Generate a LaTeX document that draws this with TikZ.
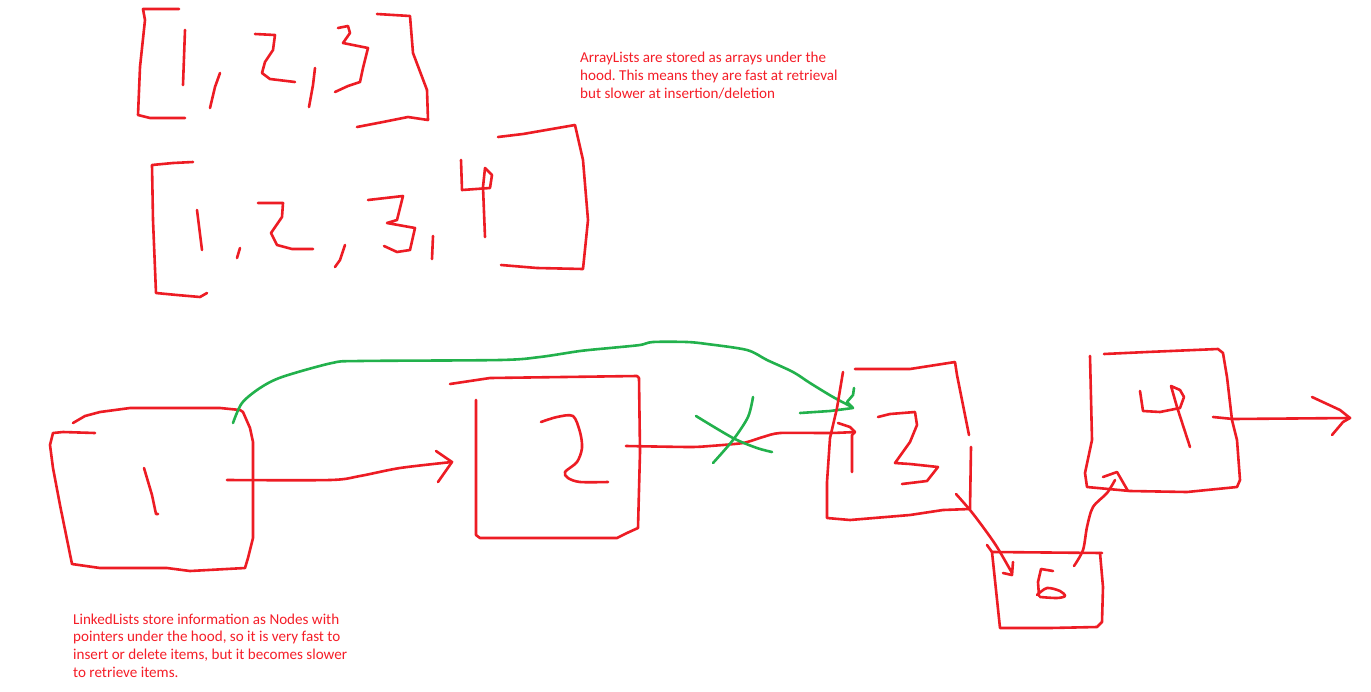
\documentclass[tikz,border=0pt]{standalone}
\usepackage{fontspec}
\setmainfont{Carlito}
\frenchspacing
\definecolor{penred}{RGB}{237,28,36}
\definecolor{pengreen}{RGB}{34,177,76}
\definecolor{txtred}{RGB}{245,30,40}
\begin{document}
\begin{tikzpicture}[x=1pt,y=-1pt,
  pen/.style={draw=penred,line width=2.6pt,line cap=round,line join=round},
  gpen/.style={draw=pengreen,line width=2.6pt,line cap=round,line join=round},
  note/.style={text=txtred,font=\fontsize{15.1}{17.6}\selectfont,align=left,anchor=base west,inner sep=0pt}]
\useasboundingbox[fill=white] (0,0) rectangle (1371,691);

% ---- array [1,2,3]
\draw[pen] (179,9) -- (143,9) -- (145,20) -- (140,67) -- (138,115) -- (150,118) -- (185,118);
\draw[pen] (185,30) -- (183,85);
\draw[pen] (220,73) -- (215,87) -- (210,108);
\draw[pen] (255,34) -- (275,35) -- (273,50) -- (265,62) -- (262,73) -- (270,79) -- (295,82);
\draw[pen] (315,68) -- (313,85) -- (309,107);
\draw[pen] (338,28) -- (348,26) -- (350,33) -- (343,43) -- (368,48) -- (363,68) -- (360,82) -- (348,86) -- (335,92);
\draw[pen] (377,14) -- (410,16) -- (413,53) -- (427,90) -- (428,120) -- (408,117) -- (383,122) -- (357,127);

% ---- array [1,2,3,4]
\draw[pen] (193,162) -- (173,163) -- (152,165) -- (153,220) -- (156,293) -- (177,295) -- (200,297) -- (207,293);
\draw[pen] (197,210) -- (202,250);
\draw[pen] (240,248) -- (237,258);
\draw[pen] (258,203) -- (283,203) -- (282,217) -- (271,233) -- (277,245) -- (292,249) -- (313,249);
\draw[pen] (345,245) -- (340,260) -- (335,267);
\draw[pen] (368,200) -- (403,196) -- (397,220) -- (387,223) -- (415,228) -- (410,250) -- (397,252) -- (384,246);
\draw[pen] (433,236) -- (432,259);
\draw[pen] (461,160) -- (462,190) -- (490,188) -- (492,175) -- (485,168) -- (483,187) -- (485,237);
\draw[pen] (498,137) -- (523,134) -- (575,125) -- (583,160) -- (588,220) -- (583,269) -- (537,268) -- (501,265);

\node[note] (arraytext) at (580,98) {ArrayLists are stored as arrays under the\\hood. This means they are fast at retrieval\\but slower at insertion/deletion};

% ---- box 1
\draw[pen] (73,423) -- (85,416) -- (100,412) -- (130,408) -- (220,408) -- (240,410) -- (243,412)
  -- (250,428) -- (253,442) -- (253,495) -- (253,538) -- (248,558) -- (245,568)
  -- (190,571) -- (167,568) -- (100,568) -- (72,564)
  -- (60,505) -- (53,468) -- (50,445) -- (53,433) -- (63,432) -- (95,433);
\draw[pen] (144,468) -- (152,495) -- (156,514) -- (158,514);

% arrow 1 -> 2
\draw[pen] plot[smooth,tension=0.5] coordinates {(227,480) (330,480) (360,476) (400,468) (452,462)};
\draw[pen] (436,451) -- (452,462) -- (438,482);

% ---- box 2
\draw[pen] (450,384) -- (490,378) -- (637,376) -- (639,378) -- (640,452) -- (638,528) -- (627,533) -- (617,538)
  -- (557,538) -- (520,538) -- (480,538) -- (476,535) -- (476,400);
\draw[pen] plot[smooth,tension=0.5] coordinates {(541,422) (557,417) (573,416) (580,432) (582,448) (577,462) (565,472) (568,478) (580,482) (608,482)};

% arrow 2 -> 3
\draw[pen] plot[smooth,tension=0.4] coordinates {(626,446) (690,447) (710,446) (743,443) (763,437) (780,433) (830,433) (855,432)};
\draw[pen] (838,423) -- (850,427) -- (855,432) -- (852,435) -- (852,472);

% green cross
\draw[gpen] plot[smooth,tension=0.5] coordinates {(696,416) (733,438) (757,448) (772,452)};
\draw[gpen] plot[smooth,tension=0.5] coordinates {(753,397) (748,417) (733,440) (713,463)};

% green curve 1 -> 3
\draw[gpen] plot[smooth,tension=0.5] coordinates {(233,423) (242,403) (260,388) (282,377) (332,363) (360,361) (500,360) (540,357) (580,351) (610,348) (640,345) (653,342) (687,342) (707,344) (747,350) (767,360) (793,372) (810,383) (833,397) (852,407)};
\draw[gpen] (800,413) -- (830,411) -- (853,408) -- (847,402) -- (853,395) -- (854,388);

% ---- box 3
\draw[pen] (843,372) -- (837,408) -- (830,438) -- (827,482) -- (827,518) -- (850,520) -- (910,515) -- (943,510) -- (970,509) -- (971,447);
\draw[pen] (969,435) -- (957,375) -- (955,362) -- (910,369) -- (855,369);
\draw[pen] (878,417) -- (890,414) -- (915,412) -- (917,425) -- (910,442) -- (895,463) -- (910,464) -- (938,467) -- (927,481) -- (902,484);

% arrow 3 -> 5
\draw[pen] plot[smooth,tension=0.5] coordinates {(956,494) (970,510) (983,527) (997,547) (1012,573)};
\draw[pen] (1003,573) -- (1012,575) -- (1013,562);

% ---- box 5
\draw[pen] (987,545) -- (992,552) -- (1102,553);
\draw[pen] (992,552) -- (1000,628) -- (1050,628) -- (1097,627) -- (1102,622) -- (1103,587) -- (1100,553);
\draw[pen] (1053,571) -- (1041,569) -- (1038,582) -- (1039,596);
\draw[pen] plot[smooth,tension=0.5] coordinates {(1037,595) (1047,588) (1060,591) (1065,596) (1057,598) (1040,597)};

% arrow 5 -> 4
\draw[pen] plot[smooth,tension=0.5] coordinates {(1074,566) (1083,550) (1087,527) (1093,507) (1107,493) (1115,480)};
\draw[pen] (1103,477) -- (1117,472) -- (1128,491);

% ---- box 4
\draw[pen] (1090,356) -- (1092,440) -- (1085,473) -- (1087,487) -- (1130,491) -- (1187,492) -- (1237,487) -- (1240,480)
  -- (1237,440) -- (1232,420) -- (1227,377) -- (1223,353) -- (1218,349) -- (1147,352) -- (1104,354);
\draw[pen] (1140,391) -- (1143,411) -- (1160,412) -- (1180,408) -- (1184,397) -- (1180,390) -- (1171,386) -- (1177,407) -- (1190,447);

% arrow out of 4
\coordinate (nullend) at (1350,418);
\draw[pen] (1213,417) -- (1233,419) -- (nullend);
\draw[pen] (1312,397) -- (1340,410) -- (nullend) -- (1343,422) -- (1332,435);

\node[note] (linkedtext) at (73,677) {LinkedLists store information as Nodes with\\pointers under the hood, so it is very fast to\\insert or delete items, but it becomes slower\\to retrieve items.};
\end{tikzpicture}
\end{document}
